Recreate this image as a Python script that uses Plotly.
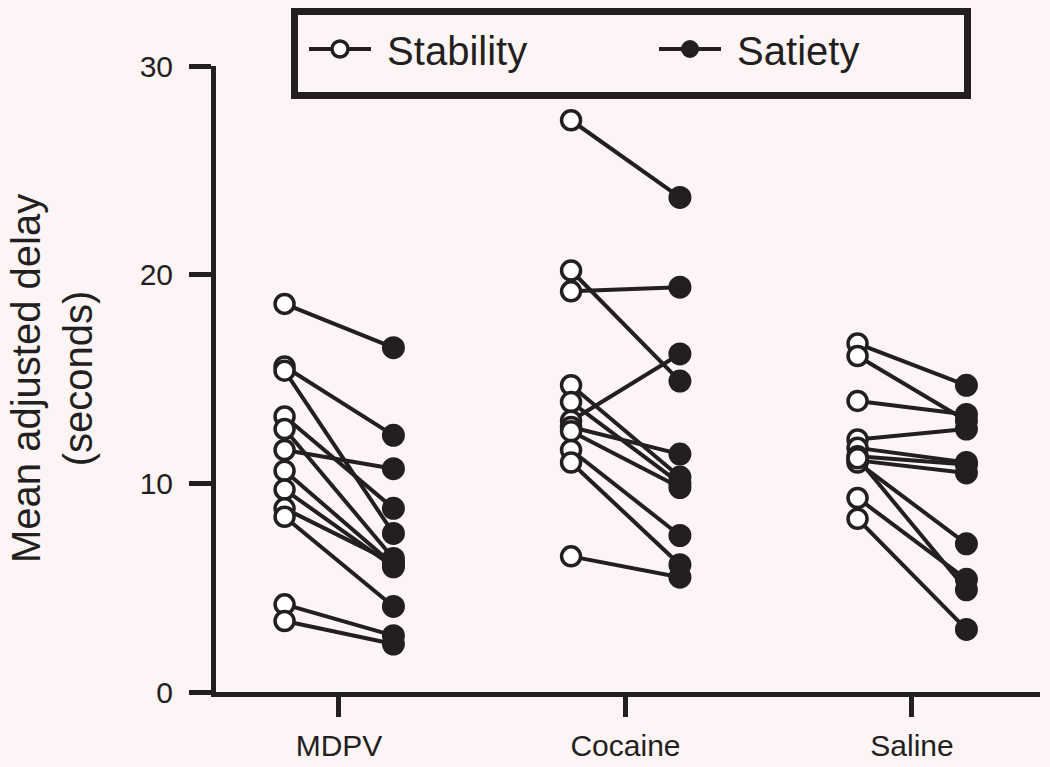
import plotly.graph_objects as go

# categories and the paired values (one subject per index)
groups = ["MDPV", "Cocaine", "Saline"]

mdpv_stability = [18.6, 15.6, 15.4, 13.2, 12.6, 11.6, 10.6, 9.7, 8.8, 8.4, 4.2, 3.4]
mdpv_satiety = [16.5, 12.3, 7.6, 8.8, 6.4, 10.7, 6.1, 6.0, 6.2, 4.1, 2.7, 2.3]

cocaine_stability = [27.4, 20.2, 19.2, 14.7, 13.9, 13.0, 12.7, 12.5, 11.6, 11.0, 6.5]
cocaine_satiety = [23.7, 14.9, 19.4, 10.3, 10.0, 16.2, 11.4, 9.8, 7.5, 6.1, 5.5]

saline_stability = [16.7, 16.1, 13.95, 12.1, 11.7, 11.3, 11.1, 11.0, 11.2, 9.3, 8.3]
saline_satiety = [14.7, 13.0, 13.3, 12.6, 11.0, 10.9, 10.5, 7.1, 4.9, 5.4, 3.0]

stability = [mdpv_stability, cocaine_stability, saline_stability]
satiety = [mdpv_satiety, cocaine_satiety, saline_satiety]

ink = "#231f20"
bg = "#fdf5f5"
offset = 0.19

# connecting lines, one segment per subject
lx, ly = [], []
sx, sy, tx, ty = [], [], [], []
for i, g in enumerate(groups):
    pos = i + 1
    for a, b in zip(stability[i], satiety[i]):
        lx += [pos - offset, pos + offset, None]
        ly += [a, b, None]
        sx.append(pos - offset)
        sy.append(a)
        tx.append(pos + offset)
        ty.append(b)

fig = go.Figure()
fig.add_trace(go.Scatter(x=lx, y=ly, mode="lines", line=dict(color=ink, width=4),
                         showlegend=False, hoverinfo="skip"))
fig.add_trace(go.Scatter(x=sx, y=sy, mode="markers", showlegend=False,
                         marker=dict(size=19, color="white", line=dict(color=ink, width=3.5))))
fig.add_trace(go.Scatter(x=tx, y=ty, mode="markers", showlegend=False,
                         marker=dict(size=20, color=ink, line=dict(color=ink, width=3))))

# legend entries
fig.add_trace(go.Scatter(x=[None], y=[None], mode="lines+markers", name=" Stability",
                         line=dict(color=ink, width=4),
                         marker=dict(size=16, color="white", line=dict(color=ink, width=3.5))))
fig.add_trace(go.Scatter(x=[None], y=[None], mode="lines+markers", name=" Satiety",
                         line=dict(color=ink, width=4),
                         marker=dict(size=18, color=ink, line=dict(color=ink, width=2))))

fig.update_layout(
    width=1050, height=767,
    margin=dict(l=216, r=10, t=66, b=75, autoexpand=False),
    paper_bgcolor=bg, plot_bgcolor=bg,
    font=dict(family="Liberation Sans, Arial, sans-serif", color=ink),
    legend=dict(orientation="h", x=(304 - 216) / 824, xanchor="left",
                y=(692 - 49) / 626, yanchor="middle",
                borderwidth=0, bgcolor="rgba(0,0,0,0)", itemwidth=62,
                font=dict(size=40, color=ink), entrywidth=273, entrywidthmode="pixels"),
    shapes=[dict(type="rect", xref="paper", yref="paper",
                 x0=(294.5 - 216) / 824, x1=(967.5 - 216) / 824,
                 y0=(692 - 95.5) / 626, y1=(692 - 11.5) / 626,
                 line=dict(color=ink, width=7), fillcolor="rgba(0,0,0,0)", layer="above")],
    annotations=[dict(text="Mean adjusted delay<br>(seconds)", textangle=-90,
                      xref="paper", yref="paper", x=(52 - 216) / 824, y=(692 - 379) / 626,
                      xanchor="center", yanchor="middle", showarrow=False,
                      font=dict(size=40, color=ink))],
)
fig.update_xaxes(range=[0.5707, 3.4468], tickvals=[1, 2, 3], ticktext=groups,
                 showline=True, linecolor=ink, linewidth=5, ticks="outside",
                 ticklen=20, tickwidth=5, tickcolor=ink, showgrid=False, zeroline=False,
                 tickfont=dict(size=30, color=ink), ticklabelstandoff=3, automargin=False)
fig.update_yaxes(range=[0, 30], tickvals=[0, 10, 20, 30],
                 showline=True, linecolor=ink, linewidth=5, ticks="outside",
                 ticklen=22, tickwidth=5, tickcolor=ink, showgrid=False, zeroline=False,
                 tickfont=dict(size=30, color=ink), ticklabelstandoff=10, automargin=False)

# drop the page's default body margin so the figure sits at the window corner
fig.write_html("out.html", config={"displayModeBar": False},
               post_script="document.body.style.margin = '0';")
